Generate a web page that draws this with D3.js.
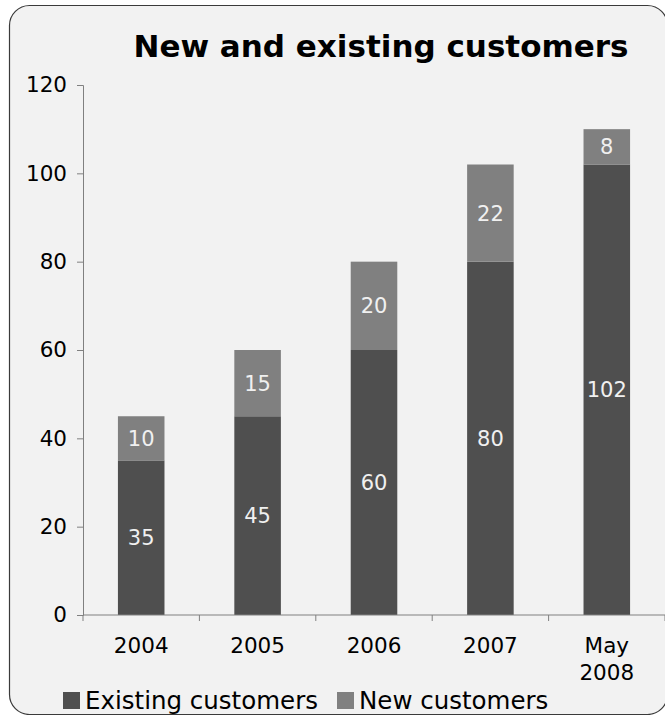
<!DOCTYPE html>
<html>
<head>
<meta charset="utf-8">
<script src="https://cdn.jsdelivr.net/npm/d3@7"></script>
<style>
  body { margin: 0; background: #fff; }
  svg { display: block; font-family: "DejaVu Sans", sans-serif; }
</style>
</head>
<body>
<div id="chart"></div>
<script>
// chart data
const categories = ["2004", "2005", "2006", "2007", "May\n2008"];
const existing = [35, 45, 60, 80, 102];
const newCust = [10, 15, 20, 22, 8];
const seriesNames = ["Existing customers", "New customers"];
const yTicks = [0, 20, 40, 60, 80, 100, 120];

const width = 665, height = 715;
const margin = { top: 85, right: 0, bottom: 100, left: 83 };
const colors = ["#4f4f4f", "#808080"];

const svg = d3.select("#chart")
  .append("svg")
  .attr("width", width)
  .attr("height", height);

// chart area with rounded frame
svg.append("rect")
  .attr("x", 9.5)
  .attr("y", 5.5)
  .attr("width", 658)
  .attr("height", 709)
  .attr("rx", 20)
  .attr("fill", "#f2f2f2")
  .attr("stroke", "#3a3a3a")
  .attr("stroke-width", 1.2);

// title
svg.append("text")
  .attr("x", 381)
  .attr("y", 57)
  .attr("text-anchor", "middle")
  .attr("font-size", 31)
  .attr("font-weight", "bold")
  .attr("fill", "#000")
  .text("New and existing customers");

const x = d3.scaleBand()
  .domain(categories)
  .range([margin.left, width - margin.right])
  .paddingInner(0.6)
  .paddingOuter(0.3);

const y = d3.scaleLinear()
  .domain([0, 120])
  .range([height - margin.bottom, margin.top]);

// stack the two series
const rows = categories.map((c, i) => ({ cat: c, existing: existing[i], added: newCust[i] }));
const stacked = d3.stack().keys(["existing", "added"])(rows);

const layers = svg.selectAll(".layer")
  .data(stacked)
  .enter()
  .append("g")
  .attr("class", "layer")
  .attr("fill", (d, i) => colors[i]);

layers.selectAll("rect")
  .data(d => d)
  .enter()
  .append("rect")
  .attr("x", d => x(d.data.cat))
  .attr("y", d => y(d[1]))
  .attr("width", x.bandwidth())
  .attr("height", d => y(d[0]) - y(d[1]));

// value labels in the middle of each segment
layers.selectAll("text")
  .data(d => d)
  .enter()
  .append("text")
  .attr("x", d => x(d.data.cat) + x.bandwidth() / 2)
  .attr("y", d => y((d[0] + d[1]) / 2))
  .attr("dy", "0.36em")
  .attr("text-anchor", "middle")
  .attr("font-size", 21)
  .attr("fill", "#f0f0f0")
  .text(d => d[1] - d[0]);

// y axis
const yAxis = svg.append("g")
  .attr("transform", `translate(${margin.left},0)`)
  .call(d3.axisLeft(y).tickValues(yTicks).tickSize(6).tickPadding(10));
yAxis.selectAll("text").attr("font-size", 21.5).attr("fill", "#000").attr("font-family", "DejaVu Sans");
yAxis.selectAll("line, path").attr("stroke", "#808080");

// x axis line and boundary ticks
const x0 = y(0);
svg.append("line")
  .attr("x1", margin.left).attr("x2", width)
  .attr("y1", x0).attr("y2", x0)
  .attr("stroke", "#808080");

svg.selectAll(".xtick")
  .data(d3.range(categories.length + 1))
  .enter()
  .append("line")
  .attr("x1", i => margin.left + i * x.step())
  .attr("x2", i => margin.left + i * x.step())
  .attr("y1", x0)
  .attr("y2", x0 + 6)
  .attr("stroke", "#808080");

// category labels (may span two lines)
const xLab = svg.selectAll(".xlab")
  .data(categories)
  .enter()
  .append("text")
  .attr("text-anchor", "middle")
  .attr("font-size", 21.5)
  .attr("fill", "#000")
  .attr("transform", d => `translate(${x(d) + x.bandwidth() / 2},${x0 + 38})`);

xLab.selectAll("tspan")
  .data(d => d.split("\n"))
  .enter()
  .append("tspan")
  .attr("x", 0)
  .attr("dy", (d, i) => i === 0 ? 0 : 27)
  .text(d => d);

// legend
const legend = svg.append("g").attr("transform", "translate(63,692)");
const legX = [0, 274];
const items = legend.selectAll("g")
  .data(seriesNames)
  .enter()
  .append("g")
  .attr("transform", (d, i) => `translate(${legX[i]},0)`);

items.append("rect")
  .attr("width", 17)
  .attr("height", 17)
  .attr("fill", (d, i) => colors[i]);

items.append("text")
  .attr("x", 22)
  .attr("y", 17)
  .attr("font-size", 24.5)
  .attr("fill", "#000")
  .text(d => d);
</script>
</body>
</html>
